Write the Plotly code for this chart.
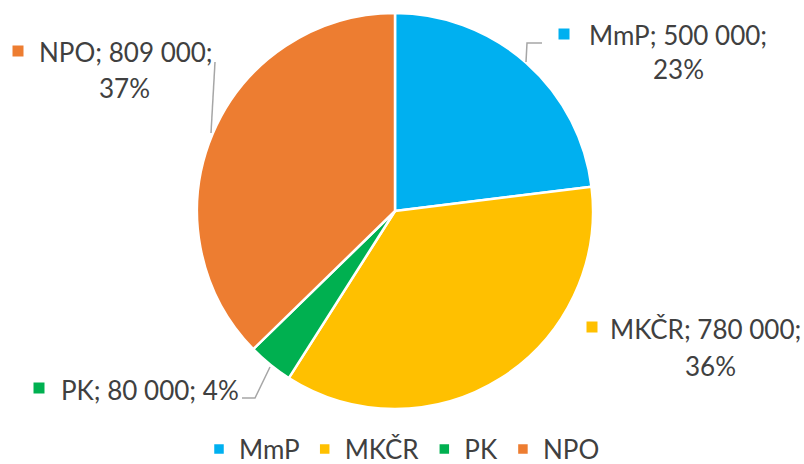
import plotly.graph_objects as go

labels = ["MmP", "MKČR", "PK", "NPO"]
values = [500000, 780000, 80000, 809000]
colors = ["#00B0F0", "#FFC000", "#00B050", "#ED7D31"]

W, H = 804, 464
FONT = "Lato, 'Open Sans', sans-serif"
TXT = "#404040"
FS = 26


def px(x):
    return x / W


def py(y):
    return 1 - y / H


def fmt(v):
    return f"{v:,}".replace(",", " ")


total = sum(values)
pcts = [round(v / total * 100) for v in values]

fig = go.Figure(
    go.Pie(
        labels=labels,
        values=values,
        marker=dict(colors=colors, line=dict(color="white", width=2.5)),
        sort=False,
        direction="clockwise",
        rotation=0,
        textinfo="none",
        hoverinfo="label+value+percent",
        domain=dict(x=[px(197), px(593)], y=[py(409), py(13)]),
    )
)

# label layout: (square x, square y, line1 x, line1 anchor, line1 y, line2 x, line2 y or None)
label_pos = {
    "MmP": (564, 34, 678, "center", 35, 678, 69),
    "MKČR": (592, 327, 803, "right", 329, 710, 366),
    "PK": (39, 388, 150, "center", 390, None, None),
    "NPO": (18, 51, 126, "center", 52, 125, 88),
}

annotations = []
shapes = []
for lab, val, pct, col in zip(labels, values, pcts, colors):
    sx, sy, tx1, anc, ty1, tx2, ty2 = label_pos[lab]
    if ty2 is None:
        lines = [(f"{lab}; {fmt(val)}; {pct}%", tx1, anc, ty1)]
    else:
        lines = [(f"{lab}; {fmt(val)};", tx1, anc, ty1), (f"{pct}%", tx2, "center", ty2)]
    for t, xx, a, yy in lines:
        annotations.append(
            dict(
                text=t, x=px(xx), y=py(yy), xref="paper", yref="paper",
                xanchor=a, yanchor="middle", showarrow=False,
                font=dict(family=FONT, size=FS, color=TXT),
            )
        )
    shapes.append(
        dict(
            type="rect", xref="paper", yref="paper",
            x0=px(sx - 5.5), x1=px(sx + 5.5), y0=py(sy + 5.5), y1=py(sy - 5.5),
            fillcolor=col, line=dict(width=0),
        )
    )

leaders = [
    [(542, 43), (527, 43), (526, 62)],
    [(215, 62), (211, 133)],
    [(242, 398), (255, 398), (270, 367)],
]
for pts in leaders:
    path = "M " + " L ".join(f"{px(x)},{py(y)}" for x, y in pts)
    shapes.append(
        dict(type="path", xref="paper", yref="paper", path=path,
             line=dict(color="#A6A6A6", width=1.5))
    )

fig.update_layout(
    width=W,
    height=H,
    margin=dict(l=0, r=0, t=0, b=0, autoexpand=False),
    paper_bgcolor="white",
    plot_bgcolor="white",
    showlegend=True,
    legend=dict(
        orientation="h", x=0.5, xanchor="center", y=py(449), yanchor="middle",
        font=dict(family=FONT, size=FS, color=TXT),
        itemclick=False,
    ),
    annotations=annotations,
    shapes=shapes,
)

fig.write_html(
    "out.html",
    config={"displayModeBar": False},
    post_script="document.body.style.margin='0';document.body.style.overflow='hidden';",
)
